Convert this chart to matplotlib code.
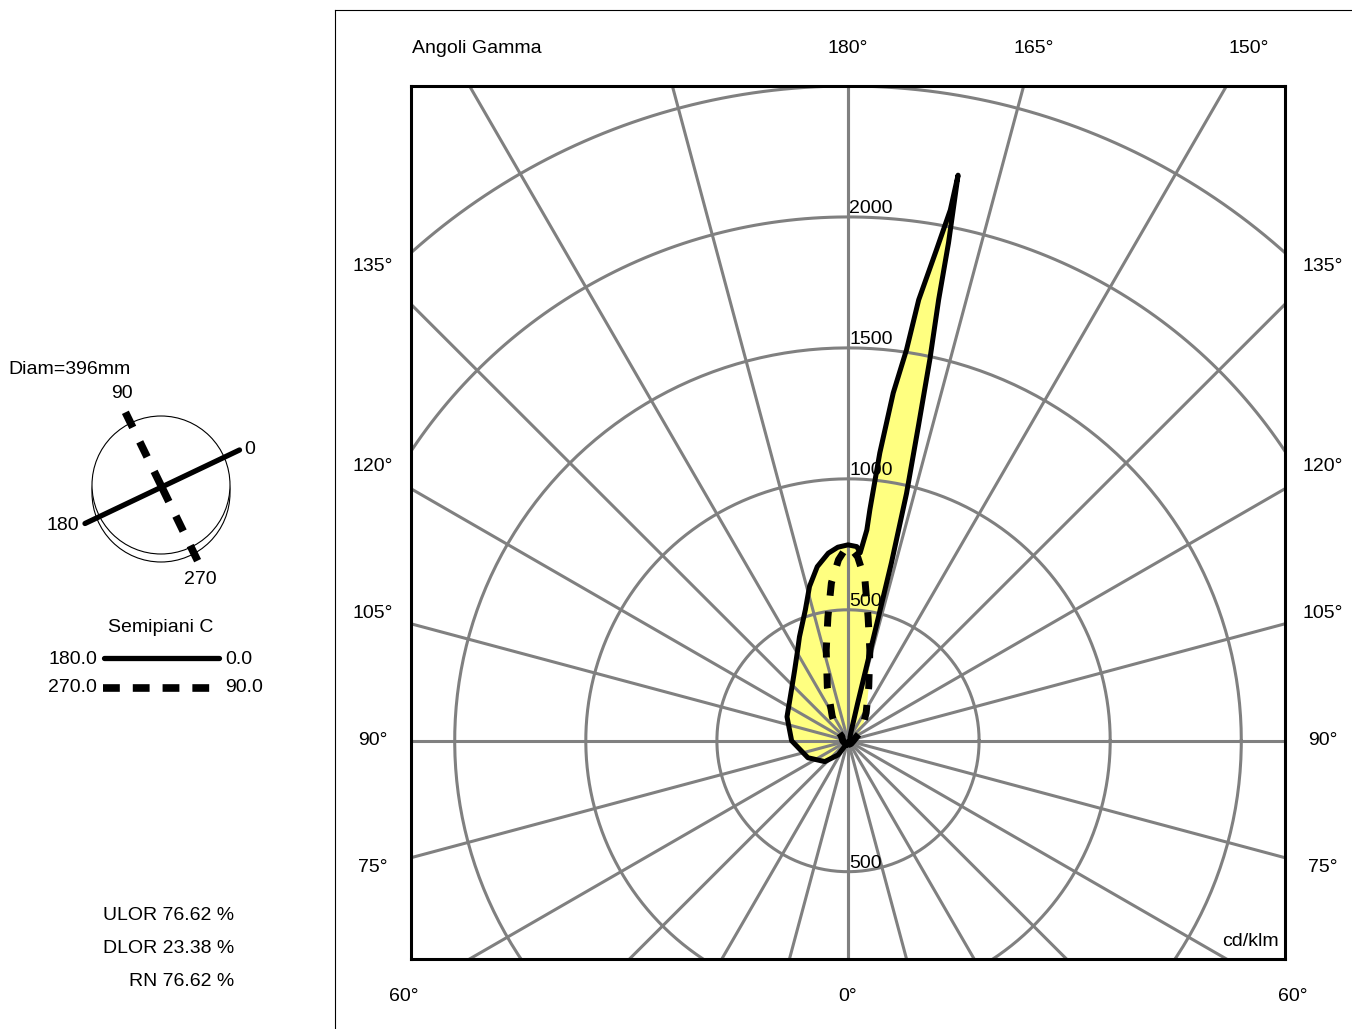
import numpy as np
import matplotlib
matplotlib.use("Agg")
import matplotlib.pyplot as plt
from matplotlib.patches import Circle

plt.rcParams['font.family'] = ['Liberation Sans', 'DejaVu Sans']
plt.rcParams['font.size'] = 14

gamma_c0 = [0, 30, 60, 90, 120, 150, 160, 165.6, 166, 166.2, 166.3, 166.7, 167.4, 167.9,
            168.4, 168.6, 169.0, 169.1, 169.8, 170.9, 171.5, 172.6, 173.7, 174.6, 174.9,
            176.3, 177.4, 180]
I_c0 = [15, 12, 10, 10, 10, 15, 30, 150, 300, 500, 700, 970, 1230, 1490,
        1720, 1940, 2200, 2064, 1904, 1705, 1509, 1339, 1106, 886, 808,
        719, 742, 748]

gamma_c180 = [0, 20, 35, 48, 67, 90, 111.5, 125, 134, 143, 151, 155, 162, 166, 170, 174, 177, 180]
I_c180 = [5, 10, 66, 119, 166, 215, 250, 271, 297, 338, 396, 438, 526, 607, 675, 720, 740, 748]

gamma_c90 = [0, 45, 90, 115, 124, 135, 147, 159, 166.5, 170.8, 174, 177, 180]
I_c90 = [15, 15, 20, 35, 55, 80, 127, 221, 357, 479, 618, 703, 748]

gamma_c270 = [0, 45, 90, 115, 124, 135, 147, 159, 166.5, 170.8, 174, 177, 180]
I_c270 = [15, 15, 20, 25, 28, 60, 110, 220, 356, 479, 606, 692, 748]

anelli = [500, 1000, 1500, 2000, 2500]
etichette_anelli = [500, 1000, 1500, 2000]
raggi_gamma = list(range(0, 181, 15))

# etichette degli angoli: (gamma, lato) con lato +1 = destra (C0), -1 = sinistra (C180)
etichette_gamma = [(180, 1), (165, 1), (150, 1),
                   (135, 1), (120, 1), (105, 1), (90, 1), (75, 1),
                   (135, -1), (120, -1), (105, -1), (90, -1), (75, -1),
                   (60, -1), (0, 1), (60, 1)]

valori_rendimento = [("ULOR", 76.62), ("DLOR", 23.38), ("RN", 76.62)]

r_max = 2500
x_lim = r_max * 2 / 3
y_min = -r_max / 3
off = 145
grigio = '#808080'
giallo = '#ffff80'


def polare_xy(gamma, intens, lato):
    g = np.radians(np.asarray(gamma, float))
    r = np.asarray(intens, float)
    return lato * r * np.sin(g), -r * np.cos(g)


def pos_etichetta(g, lato):
    """Intersezione del raggio gamma con il riquadro esterno delle etichette."""
    dx = lato * np.sin(np.radians(g))
    dy = -np.cos(np.radians(g))
    t = []
    if abs(dx) > 1e-9:
        t.append((x_lim + off) / abs(dx))
    if dy > 1e-9:
        t.append((r_max + off) / dy)
    if dy < -1e-9:
        t.append((y_min - off) / dy)
    t = min(t)
    return dx * t, dy * t


fig = plt.figure(figsize=(13.52, 10.29), dpi=100)
W, H = 1352, 1029
ax = fig.add_axes([411 / W, (H - 959) / H, 874 / W, 873 / H])
ax.set_xlim(-x_lim, x_lim)
ax.set_ylim(y_min, r_max)
ax.set_xticks([])
ax.set_yticks([])
for s in ax.spines.values():
    s.set_linewidth(2.2)
    s.set_color('black')

# curve fotometriche
xl, yl = polare_xy(gamma_c180, I_c180, -1)
xr, yr = polare_xy(gamma_c0, I_c0, 1)
x_sol = np.concatenate([xl, xr[::-1]])
y_sol = np.concatenate([yl, yr[::-1]])
xl2, yl2 = polare_xy(gamma_c270, I_c270, -1)
xr2, yr2 = polare_xy(gamma_c90, I_c90, 1)
x_tr = np.concatenate([xl2, xr2[::-1]])
y_tr = np.concatenate([yl2, yr2[::-1]])

ax.fill(x_sol, y_sol, color=giallo, lw=0, zorder=1)
ax.fill(x_tr, y_tr, color=giallo, lw=0, zorder=1)

# griglia polare
th = np.linspace(0, 2 * np.pi, 400)
for r in anelli:
    ax.plot(r * np.cos(th), r * np.sin(th), color=grigio, lw=2.2, zorder=2)
for g in raggi_gamma:
    for lato in (1, -1):
        xg, yg = polare_xy([0, g], [0, 6000], lato)
        ax.plot(xg, yg, color=grigio, lw=2.2, zorder=2)

ax.plot(x_sol, y_sol, color='black', lw=3.6, zorder=4, solid_joinstyle='round')
ax.plot(xl2, yl2, color='black', lw=5, ls=(0, (2.16, 2.3)), zorder=4)
ax.plot(xr2, yr2, color='black', lw=5, ls=(0, (2.16, 2.3)), zorder=4)

for r in etichette_anelli:
    ax.text(4, r, str(r), ha='left', va='bottom', zorder=5)
ax.text(4, -500, "500", ha='left', va='bottom', zorder=5)

for g, lato in etichette_gamma:
    xt, yt = pos_etichetta(g, lato)
    ax.text(xt, yt, f"{g}°", ha='center', va='center', clip_on=False)
ax.text(-x_lim + 5, r_max + off, "Angoli Gamma", ha='left', va='center', clip_on=False)
ax.text(0.993, 0.0206, "cd/klm", transform=ax.transAxes, ha='right', va='center')

# pannello informativo (coordinate in pixel)
inf = fig.add_axes([0, 0, 1, 1], zorder=-1)
inf.set_xlim(0, W)
inf.set_ylim(H, 0)
inf.axis('off')

inf.plot([335, 335], [10, H], color='black', lw=0.8)
inf.plot([335, W], [10, 10], color='black', lw=0.8)

inf.text(70, 370, "Diam=396mm", ha='center', va='center')
inf.add_patch(Circle((161, 493), 69, fc='white', ec='black', lw=0.8))
inf.add_patch(Circle((161, 485), 69, fc='white', ec='black', lw=0.8))
cx, cy = 161.5, 486.5
inf.plot([85, 239.5], [523.5, 450], color='black', lw=3.8, solid_capstyle='round')
inf.plot([cx, 125], [cy, 411.5], color='black', lw=5.5, ls=(0, (2.2, 2.1)))
inf.plot([cx, 198], [cy, 561.5], color='black', lw=5.5, ls=(0, (2.2, 2.1)))
inf.text(250, 450, "0", ha='center', va='center')
inf.text(63, 526, "180", ha='center', va='center')
inf.text(122, 393, "90", ha='center', va='center')
inf.text(200, 579, "270", ha='center', va='center')

inf.text(161, 627, "Semipiani C", ha='center', va='center')
inf.text(97, 659, "180.0", ha='right', va='center')
inf.plot([104, 219], [658, 658], color='black', lw=3.8, solid_capstyle='round')
inf.text(225, 659, "0.0", ha='left', va='center')
inf.text(97, 688, "270.0", ha='right', va='center')
inf.plot([103, 212], [688, 688], color='black', lw=5.5, ls=(0, (2.2, 1.7)))
inf.text(225, 688, "90.0", ha='left', va='center')

for i, (nome, val) in enumerate(valori_rendimento):
    inf.text(234, 915 + 33.3 * i, f"{nome} {val:.2f} %", ha='right', va='center')

fig.savefig("out.png", dpi=100)
